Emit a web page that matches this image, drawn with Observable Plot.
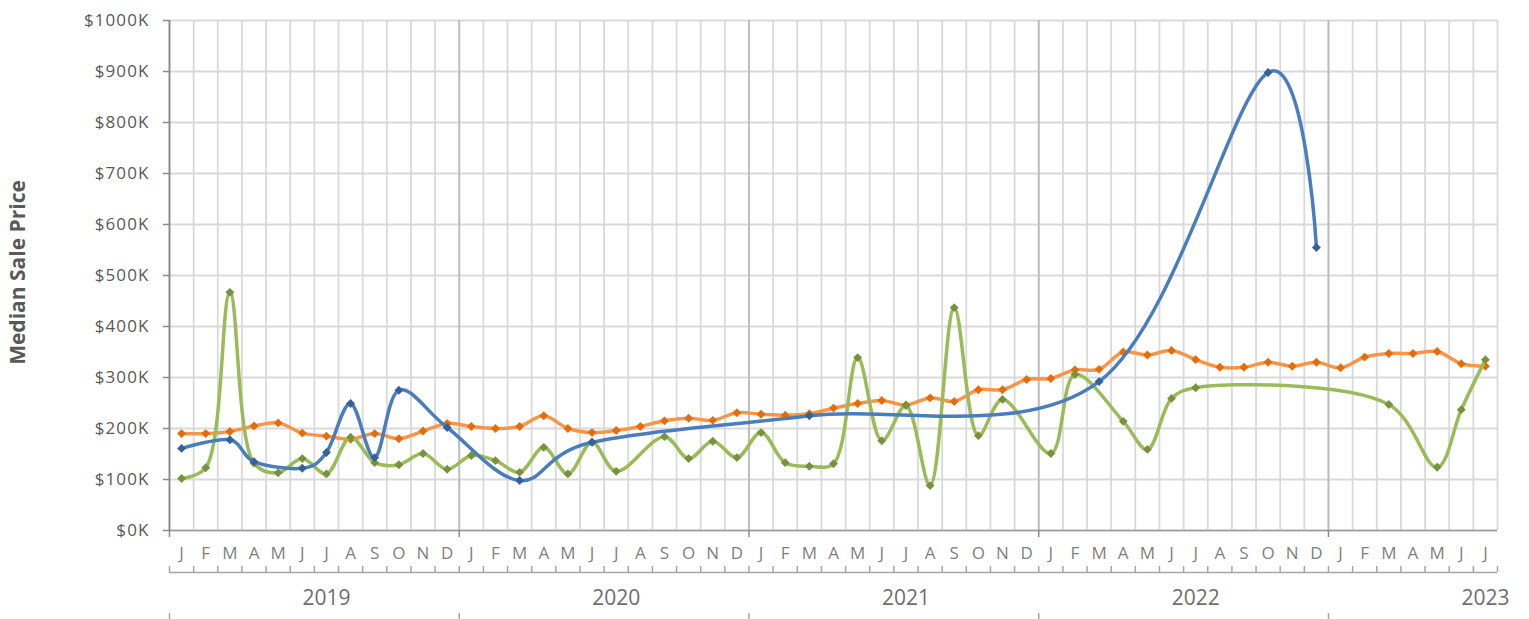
<!DOCTYPE html>
<html><head><meta charset="utf-8">
<script src="https://cdn.jsdelivr.net/npm/d3@7"></script>
<script src="https://cdn.jsdelivr.net/npm/@observablehq/plot@0.6"></script>
<style>
body{margin:0;background:#fff;overflow:hidden} svg{display:block}
g[aria-label="y-axis tick label"] text{letter-spacing:1.1px}
</style>
</head><body><div id="chart"></div>
<script>
// ---- data (values in $K) ----
const monthLetters = ["J","F","M","A","M","J","J","A","S","O","N","D"];
const years = [2019, 2020, 2021, 2022, 2023];
const orange = [
  190,190,194,205,211,191,185,179,190,180,195,210,
  204,200,204,225,200,192,196,204,215,220,216,231,
  228,226,229,240,249,255,246,260,253,276,276,296,
  298,315,316,350,344,353,335,320,320,330,322,330,
  319,340,347,347,351,327,322
];
const green = [
  102,123,467,132,113,141,111,183,133,129,151,120,
  147,137,114,163,111,173,116,null,184,141,175,143,
  192,133,126,131,339,176,245,88,437,186,257,null,
  151,306,null,214,159,259,280,null,null,null,null,null,
  null,null,247,null,124,237,335
];
const blue = [
  161,null,178,135,null,122,153,249,143,275,null,202,
  null,null,98,null,null,173,null,null,null,null,null,null,
  null,null,225,null,null,null,null,null,null,null,null,null,
  null,null,292,null,null,null,null,null,null,898,null,555,
  null,null,null,null,null,null,null
];
const yTicks = [0,100,200,300,400,500,600,700,800,900,1000];
const yTitle = "Median Sale Price";

// ---- layout ----
const W = 1529, H = 619, mL = 169, mR = 32, mT = 20, mB = 89;
const frameH = H - mT - mB;

const n = orange.length;
const rows = d3.range(n).map(i => ({
  i, month: monthLetters[i % 12], year: years[Math.floor(i / 12)],
  orange: orange[i], green: green[i], blue: blue[i]
}));
const boundaries = d3.range(n + 1).map(k => k - 0.5);
const yearBounds = d3.range(0, n, 12).map(k => k - 0.5);
const yearLabels = years.map((y, j) => ({year: String(y), i: Math.min(j * 12 + 6, n - 1)}));

const series = [
  {key: "orange", line: "#f7964a", marker: "#e46c0a", curve: d3.curveCatmullRom.alpha(0.5)},
  {key: "green", line: "#9bbb59", marker: "#76923c", curve: d3.curveCatmullRom.alpha(0.5)},
  {key: "blue", line: "#4a7ebb", marker: "#36609a", curve: d3.curveCatmullRom.alpha(0)}
];

const seriesMarks = series.flatMap(s => {
  const pts = rows.filter(d => d[s.key] != null);
  return [
    Plot.line(pts, {x: "i", y: s.key, curve: s.curve, stroke: s.line, strokeWidth: 3.5}),
    Plot.dot(pts, {x: "i", y: s.key, symbol: "diamond2", r: 4, fill: s.marker, stroke: "none"})
  ];
});

const chart = Plot.plot({
  width: W, height: H,
  marginLeft: mL, marginRight: mR, marginTop: mT, marginBottom: mB,
  style: {fontFamily: "'Open Sans', sans-serif", background: "#fff"},
  x: {type: "linear", domain: [-0.5, n - 0.5], axis: null},
  y: {type: "linear", domain: [0, 1000], axis: null},
  marks: [
    Plot.ruleY(yTicks, {stroke: "#d9d9d9", strokeWidth: 1.8}),
    Plot.ruleX(boundaries, {stroke: "#d9d9d9", strokeWidth: 1.8}),
    Plot.ruleX(yearBounds.slice(1), {stroke: "#bcbcbc", strokeWidth: 1.8}),
    Plot.ruleY([0], {stroke: "#9a9a9a", strokeWidth: 1.6}),
    Plot.ruleX(yearBounds.slice(0, 1), {stroke: "#8a8a8a", strokeWidth: 1.8}),
    Plot.axisY(yTicks, {
      tickFormat: d => `$${d}K`, tickSize: 6, tickPadding: 14, fontSize: 17,
      stroke: "#8a8a8a", fill: "#595959", label: null, strokeWidth: 1.5
    }),
    // x-axis ticks at year boundaries below the axis line
    Plot.ruleX(yearBounds, {insetTop: frameH - 7, dy: 7, stroke: "#8a8a8a", strokeWidth: 1.5}),
    // month labels
    Plot.text(rows, {x: "i", text: "month", frameAnchor: "bottom", dy: 23, lineAnchor: "middle", fontSize: 17, fill: "#7f7f7f"}),
    // bracket line under months with ticks
    Plot.ruleY([0], {dy: 42, stroke: "#a6a6a6", strokeWidth: 1.5}),
    Plot.ruleX(boundaries, {insetTop: frameH - 6, dy: 42, stroke: "#a6a6a6", strokeWidth: 1.5}),
    // year labels
    Plot.text(yearLabels, {x: "i", text: "year", frameAnchor: "bottom", dy: 68, lineAnchor: "middle", fontSize: 21, fill: "#6e6e6e"}),
    Plot.ruleX(yearBounds, {insetTop: frameH - 6, dy: 89, stroke: "#a6a6a6", strokeWidth: 1.5}),
    // y title
    Plot.text([yTitle], {frameAnchor: "left", textAnchor: "middle", dx: -151, dy: -3, rotate: -90, fontWeight: "bold", fontSize: 21, fill: "#595959"}),
    ...seriesMarks
  ]
});
document.getElementById("chart").appendChild(chart);
</script>
</body></html>
